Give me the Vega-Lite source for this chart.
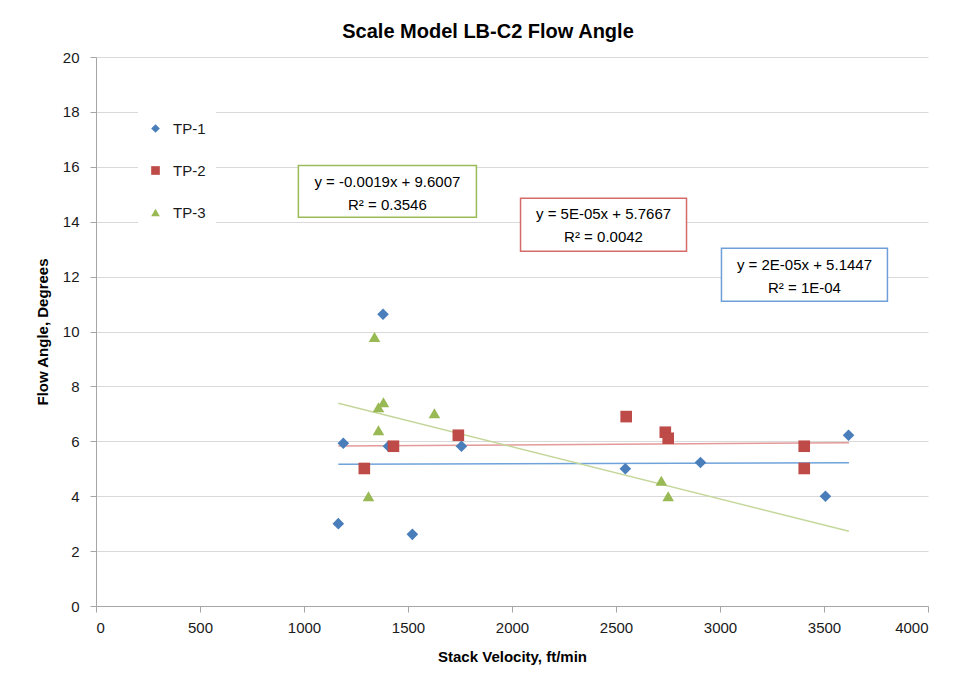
{
  "$schema": "https://vega.github.io/schema/vega-lite/v6.json",
  "width": 832,
  "height": 549,
  "autosize": {"type": "none"},
  "padding": {"left": 96, "top": 57, "right": 29, "bottom": 94},
  "background": "white",
  "title": {
    "text": "Scale Model LB-C2 Flow Angle",
    "font": "Liberation Sans",
    "fontSize": 20,
    "fontWeight": "bold",
    "color": "#000000",
    "anchor": "middle",
    "dx": -24,
    "offset": 8
  },
  "config": {
    "font": "Liberation Sans",
    "view": {"stroke": null},
    "axis": {
      "labelFont": "Liberation Sans",
      "labelFontSize": 15,
      "labelColor": "#1a1a1a",
      "titleFont": "Liberation Sans",
      "titleFontSize": 15,
      "titleFontWeight": "bold",
      "titleColor": "#000000",
      "domainColor": "#A6A6A6",
      "tickColor": "#A6A6A6",
      "tickSize": 6,
      "gridColor": "#D9D9D9"
    }
  },
  "datasets": {
    "points": [
      {"series": "TP-1", "velocity": 1165, "angle": 3.0},
      {"series": "TP-1", "velocity": 1189, "angle": 5.93},
      {"series": "TP-1", "velocity": 1380, "angle": 10.63},
      {"series": "TP-1", "velocity": 1406, "angle": 5.82},
      {"series": "TP-1", "velocity": 1521, "angle": 2.61},
      {"series": "TP-1", "velocity": 1757, "angle": 5.82},
      {"series": "TP-1", "velocity": 2545, "angle": 5.0},
      {"series": "TP-1", "velocity": 2906, "angle": 5.23},
      {"series": "TP-1", "velocity": 3507, "angle": 4.0},
      {"series": "TP-1", "velocity": 3618, "angle": 6.22},
      {"series": "TP-2", "velocity": 1290, "angle": 5.01},
      {"series": "TP-2", "velocity": 1430, "angle": 5.82},
      {"series": "TP-2", "velocity": 1742, "angle": 6.22},
      {"series": "TP-2", "velocity": 2549, "angle": 6.9},
      {"series": "TP-2", "velocity": 2737, "angle": 6.33},
      {"series": "TP-2", "velocity": 2751, "angle": 6.11},
      {"series": "TP-2", "velocity": 3405, "angle": 5.82},
      {"series": "TP-2", "velocity": 3405, "angle": 5.01},
      {"series": "TP-3", "velocity": 1310, "angle": 4.0},
      {"series": "TP-3", "velocity": 1339, "angle": 9.8},
      {"series": "TP-3", "velocity": 1358, "angle": 7.24},
      {"series": "TP-3", "velocity": 1382, "angle": 7.42},
      {"series": "TP-3", "velocity": 1358, "angle": 6.4},
      {"series": "TP-3", "velocity": 1627, "angle": 7.02},
      {"series": "TP-3", "velocity": 2718, "angle": 4.56},
      {"series": "TP-3", "velocity": 2751, "angle": 4.0}
    ],
    "trend": [
      {"fit": "TP-1 trend", "velocity": 1165, "angle": 5.168},
      {"fit": "TP-1 trend", "velocity": 3620, "angle": 5.217},
      {"fit": "TP-2 trend", "velocity": 1165, "angle": 5.825},
      {"fit": "TP-2 trend", "velocity": 3620, "angle": 5.948},
      {"fit": "TP-3 trend", "velocity": 1165, "angle": 7.387},
      {"fit": "TP-3 trend", "velocity": 3620, "angle": 2.723}
    ],
    "one": [{}]
  },
  "layer": [
    {
      "data": {"name": "trend"},
      "mark": {"type": "line", "strokeWidth": 1.5, "clip": true},
      "encoding": {
        "x": {
          "field": "velocity", "type": "quantitative",
          "scale": {"domain": [0, 4000], "nice": false},
          "axis": {
            "title": "Stack Velocity, ft/min",
            "values": [0, 500, 1000, 1500, 2000, 2500, 3000, 3500, 4000],
            "format": "d",
            "grid": false,
            "labelPadding": 8,
            "titlePadding": 14
          }
        },
        "y": {
          "field": "angle", "type": "quantitative",
          "scale": {"domain": [0, 20], "nice": false},
          "axis": {
            "title": "Flow Angle, Degrees",
            "values": [0, 2, 4, 6, 8, 10, 12, 14, 16, 18, 20],
            "grid": true,
            "labelPadding": 11,
            "titlePadding": 12
          }
        },
        "stroke": {
          "field": "fit", "type": "nominal",
          "scale": {"domain": ["TP-1 trend", "TP-2 trend", "TP-3 trend"], "range": ["#6FA3DA", "#E39A98", "#C4D79B"]},
          "legend": null
        }
      }
    },
    {
      "data": {"name": "points"},
      "mark": {"type": "point", "filled": true, "opacity": 1, "size": 135},
      "encoding": {
        "x": {"field": "velocity", "type": "quantitative"},
        "y": {"field": "angle", "type": "quantitative"},
        "color": {
          "field": "series", "type": "nominal",
          "scale": {"domain": ["TP-1", "TP-2", "TP-3"], "range": ["#4A7EBB", "#BE4B48", "#98B954"]},
          "legend": {
            "title": null,
            "orient": "none",
            "legendX": 42,
            "legendY": 54,
            "fillColor": "white",
            "padding": 10,
            "rowPadding": 26,
            "labelFontSize": 15,
            "labelColor": "#1a1a1a",
            "labelOffset": 10,
            "symbolSize": 75,
            "symbolStrokeWidth": 0
          }
        },
        "shape": {
          "field": "series", "type": "nominal",
          "scale": {"domain": ["TP-1", "TP-2", "TP-3"], "range": ["diamond", "square", "triangle-up"]}
        }
      }
    },
    {
      "data": {"name": "one"},
      "mark": {"type": "rect", "fill": "white", "stroke": "#9BBB59", "strokeWidth": 1.5},
      "encoding": {
        "x": {"datum": 973, "type": "quantitative"},
        "x2": {"datum": 1829},
        "y": {"datum": 16.05, "type": "quantitative"},
        "y2": {"datum": 14.16}
      }
    },
    {
      "data": {"name": "one"},
      "mark": {"type": "rect", "fill": "white", "stroke": "#D46B69", "strokeWidth": 1.5},
      "encoding": {
        "x": {"datum": 2041, "type": "quantitative"},
        "x2": {"datum": 2839},
        "y": {"datum": 14.85, "type": "quantitative"},
        "y2": {"datum": 12.92}
      }
    },
    {
      "data": {"name": "one"},
      "mark": {"type": "rect", "fill": "white", "stroke": "#6E9FD8", "strokeWidth": 1.5},
      "encoding": {
        "x": {"datum": 3007, "type": "quantitative"},
        "x2": {"datum": 3805},
        "y": {"datum": 13.03, "type": "quantitative"},
        "y2": {"datum": 11.1}
      }
    },
    {
      "data": {"name": "one"},
      "mark": {"type": "text", "fontSize": 15, "color": "#000000", "align": "center", "baseline": "middle", "lineHeight": 23},
      "encoding": {
        "x": {"datum": 1401, "type": "quantitative"},
        "y": {"datum": 15.45, "type": "quantitative"},
        "text": {"value": ["y = -0.0019x + 9.6007", "R² = 0.3546"]}
      }
    },
    {
      "data": {"name": "one"},
      "mark": {"type": "text", "fontSize": 15, "color": "#000000", "align": "center", "baseline": "middle", "lineHeight": 23},
      "encoding": {
        "x": {"datum": 2440, "type": "quantitative"},
        "y": {"datum": 14.27, "type": "quantitative"},
        "text": {"value": ["y = 5E-05x + 5.7667", "R² = 0.0042"]}
      }
    },
    {
      "data": {"name": "one"},
      "mark": {"type": "text", "fontSize": 15, "color": "#000000", "align": "center", "baseline": "middle", "lineHeight": 23},
      "encoding": {
        "x": {"datum": 3406, "type": "quantitative"},
        "y": {"datum": 12.43, "type": "quantitative"},
        "text": {"value": ["y = 2E-05x + 5.1447", "R² = 1E-04"]}
      }
    }
  ]
}
